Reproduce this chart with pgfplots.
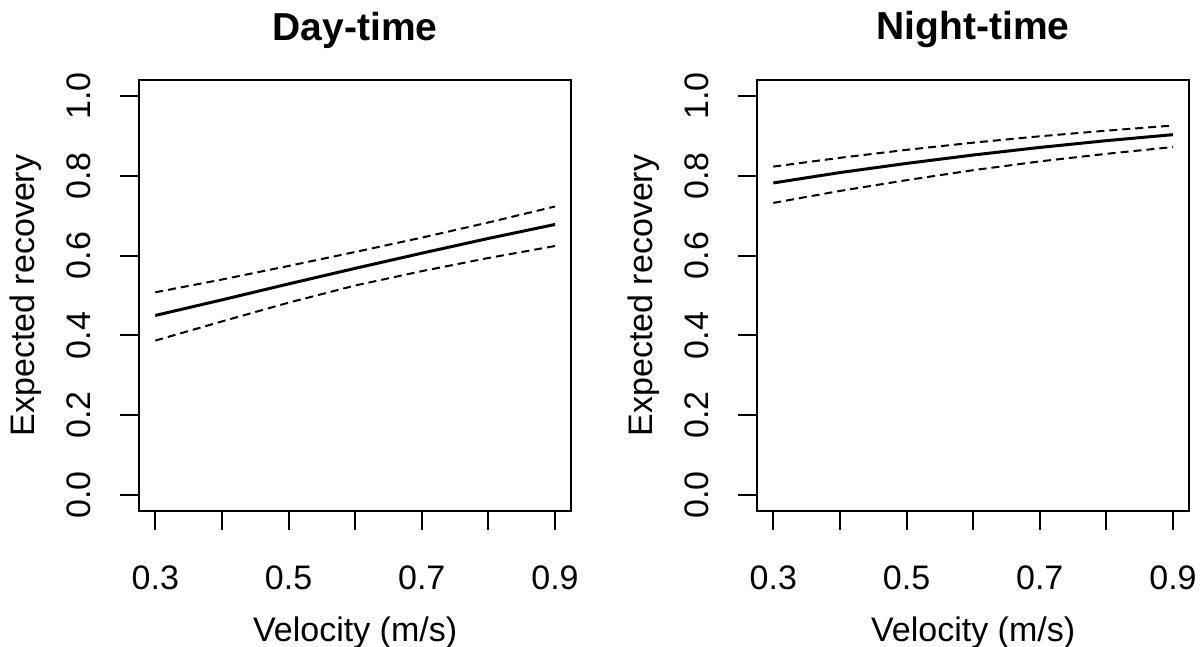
\documentclass[border=0pt]{standalone}
\usepackage{fontspec}
\setmainfont{Liberation Sans}
\usepackage{pgfplots}
\pgfplotsset{compat=1.18}

% fitted mean and confidence band
\pgfplotstableread{
v    fit    lo     hi
0.3  0.450  0.387  0.508
0.4  0.489  0.435  0.540
0.5  0.529  0.482  0.574
0.6  0.568  0.525  0.609
0.7  0.606  0.561  0.645
0.8  0.643  0.594  0.683
0.9  0.678  0.624  0.723
}\daytab
\pgfplotstableread{
v    fit    lo     hi
0.3  0.782  0.732  0.823
0.4  0.808  0.762  0.845
0.5  0.831  0.789  0.865
0.6  0.852  0.814  0.883
0.7  0.871  0.836  0.899
0.8  0.888  0.855  0.913
0.9  0.903  0.872  0.926
}\nighttab

\pgfplotsset{
  rplot/.style={
    scale only axis, width=215.85pt, height=215.5pt,
    xmin=0.276, xmax=0.924, ymin=-0.04, ymax=1.04,
    axis line style={line width=1pt}, every tick/.style={black, line width=1pt},
    tick align=outside, major tick length=9.5pt,
    xtick={0.3,0.4,0.5,0.6,0.7,0.8,0.9},
    xticklabels={0.3,,0.5,,0.7,,0.9},
    ytick={0,0.2,0.4,0.6,0.8,1.0},
    yticklabels={0.0,0.2,0.4,0.6,0.8,1.0},
    xtick pos=bottom, ytick pos=left,
    tick label style={font=\fontsize{17}{19}\selectfont},
    xticklabel style={anchor=center, yshift=-24pt},
    yticklabel style={anchor=center, xshift=-21pt, rotate=90},
    every axis x label/.style={at={(axis description cs:0.5,0)}, anchor=center,
      yshift=-61pt, font=\fontsize{17}{19}\selectfont},
    every axis y label/.style={at={(axis description cs:0,0.5)}, anchor=center,
      xshift=-57pt, rotate=90, font=\fontsize{17}{19}\selectfont},
    every axis title/.style={at={(axis description cs:0.5,1)}, anchor=center,
      yshift=25pt, font=\fontsize{19.5}{22}\selectfont\bfseries},
    xlabel={Velocity (m/s)}, ylabel={Expected recovery},
    /pgf/number format/assume math mode=true,
  },
  fitline/.style={black, line width=1.5pt, no marks},
  bandline/.style={black, line width=1pt, no marks, dash pattern=on 4pt off 2.5pt},
}

\begin{document}
\begin{tikzpicture}
\path[use as bounding box] (0,0) rectangle (600pt,323.5pt);
\begin{axis}[rplot, at={(69.65pt,68pt)}, anchor=south west, title={Day-time}]
  \addplot[fitline] table[x=v, y=fit] {\daytab};
  \addplot[bandline] table[x=v, y=lo] {\daytab};
  \addplot[bandline] table[x=v, y=hi] {\daytab};
\end{axis}
\begin{axis}[rplot, at={(378.65pt,68pt)}, anchor=south west, title={Night-time}]
  \addplot[fitline] table[x=v, y=fit] {\nighttab};
  \addplot[bandline] table[x=v, y=lo] {\nighttab};
  \addplot[bandline] table[x=v, y=hi] {\nighttab};
\end{axis}
\end{tikzpicture}
\end{document}
